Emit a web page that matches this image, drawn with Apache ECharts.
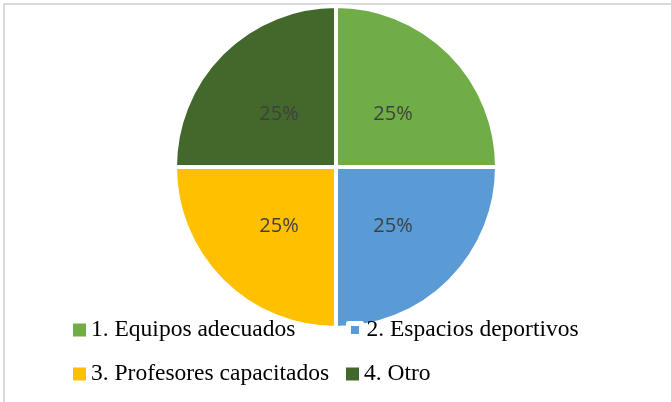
<!DOCTYPE html>
<html>
<head>
<meta charset="utf-8">
<script src="https://cdn.jsdelivr.net/npm/echarts@6/dist/echarts.min.js"></script>
<style>
html,body{margin:0;padding:0;background:#fff;}
#chart{width:671px;height:402px;}
</style>
</head>
<body>
<div id="chart"></div>
<script>
const categories = ['1. Equipos adecuados', '2. Espacios deportivos', '3. Profesores capacitados', '4. Otro'];
const values = [25, 25, 25, 25];
const colors = ['#70ad47', '#5b9bd5', '#ffc000', '#43682b'];

const chart = echarts.init(document.getElementById('chart'), null, {renderer: 'canvas'});

const legendPos = [
  {left: 73, top: 318},
  {left: 346, top: 318},
  {left: 73, top: 362},
  {left: 346, top: 362}
];
const labelOffsets = [[-2, 6], [-2, 0], [2, 0], [2, 6]];

const legends = categories.map((c, i) => ({
  data: [c],
  left: legendPos[i].left,
  top: legendPos[i].top,
  padding: 0,
  itemWidth: 13,
  itemHeight: 13,
  itemGap: 0,
  selectedMode: false,
  icon: 'rect',
  itemStyle: i === 1 ? {borderColor: '#fff', borderWidth: 5} : {borderWidth: 0},
  textStyle: {fontFamily: '"Liberation Serif", "Times New Roman", serif', fontSize: 23.5, color: '#000', lineHeight: 24}
}));

chart.setOption({
  animation: false,
  color: colors,
  graphic: [{
    type: 'rect',
    shape: {x: 4, y: 4, width: 720, height: 440},
    style: {fill: 'none', stroke: '#d9d9d9', lineWidth: 2},
    silent: true,
    z: -10
  }],
  legend: legends,
  series: [{
    type: 'pie',
    center: [336, 167],
    radius: [0, 161],
    startAngle: 90,
    clockwise: true,
    z: 1,
    data: categories.map((c, i) => ({name: c, value: values[i], label: {offset: labelOffsets[i]}})),
    itemStyle: {borderColor: '#fff', borderWidth: 4},
    label: {
      show: true,
      position: 'inside',
      formatter: p => Math.round(p.percent) + '%',
      fontFamily: '"Open Sans", sans-serif',
      fontSize: 20,
      color: '#404040'
    },
    labelLine: {show: false},
    emphasis: {disabled: true}
  }]
});
</script>
</body>
</html>
